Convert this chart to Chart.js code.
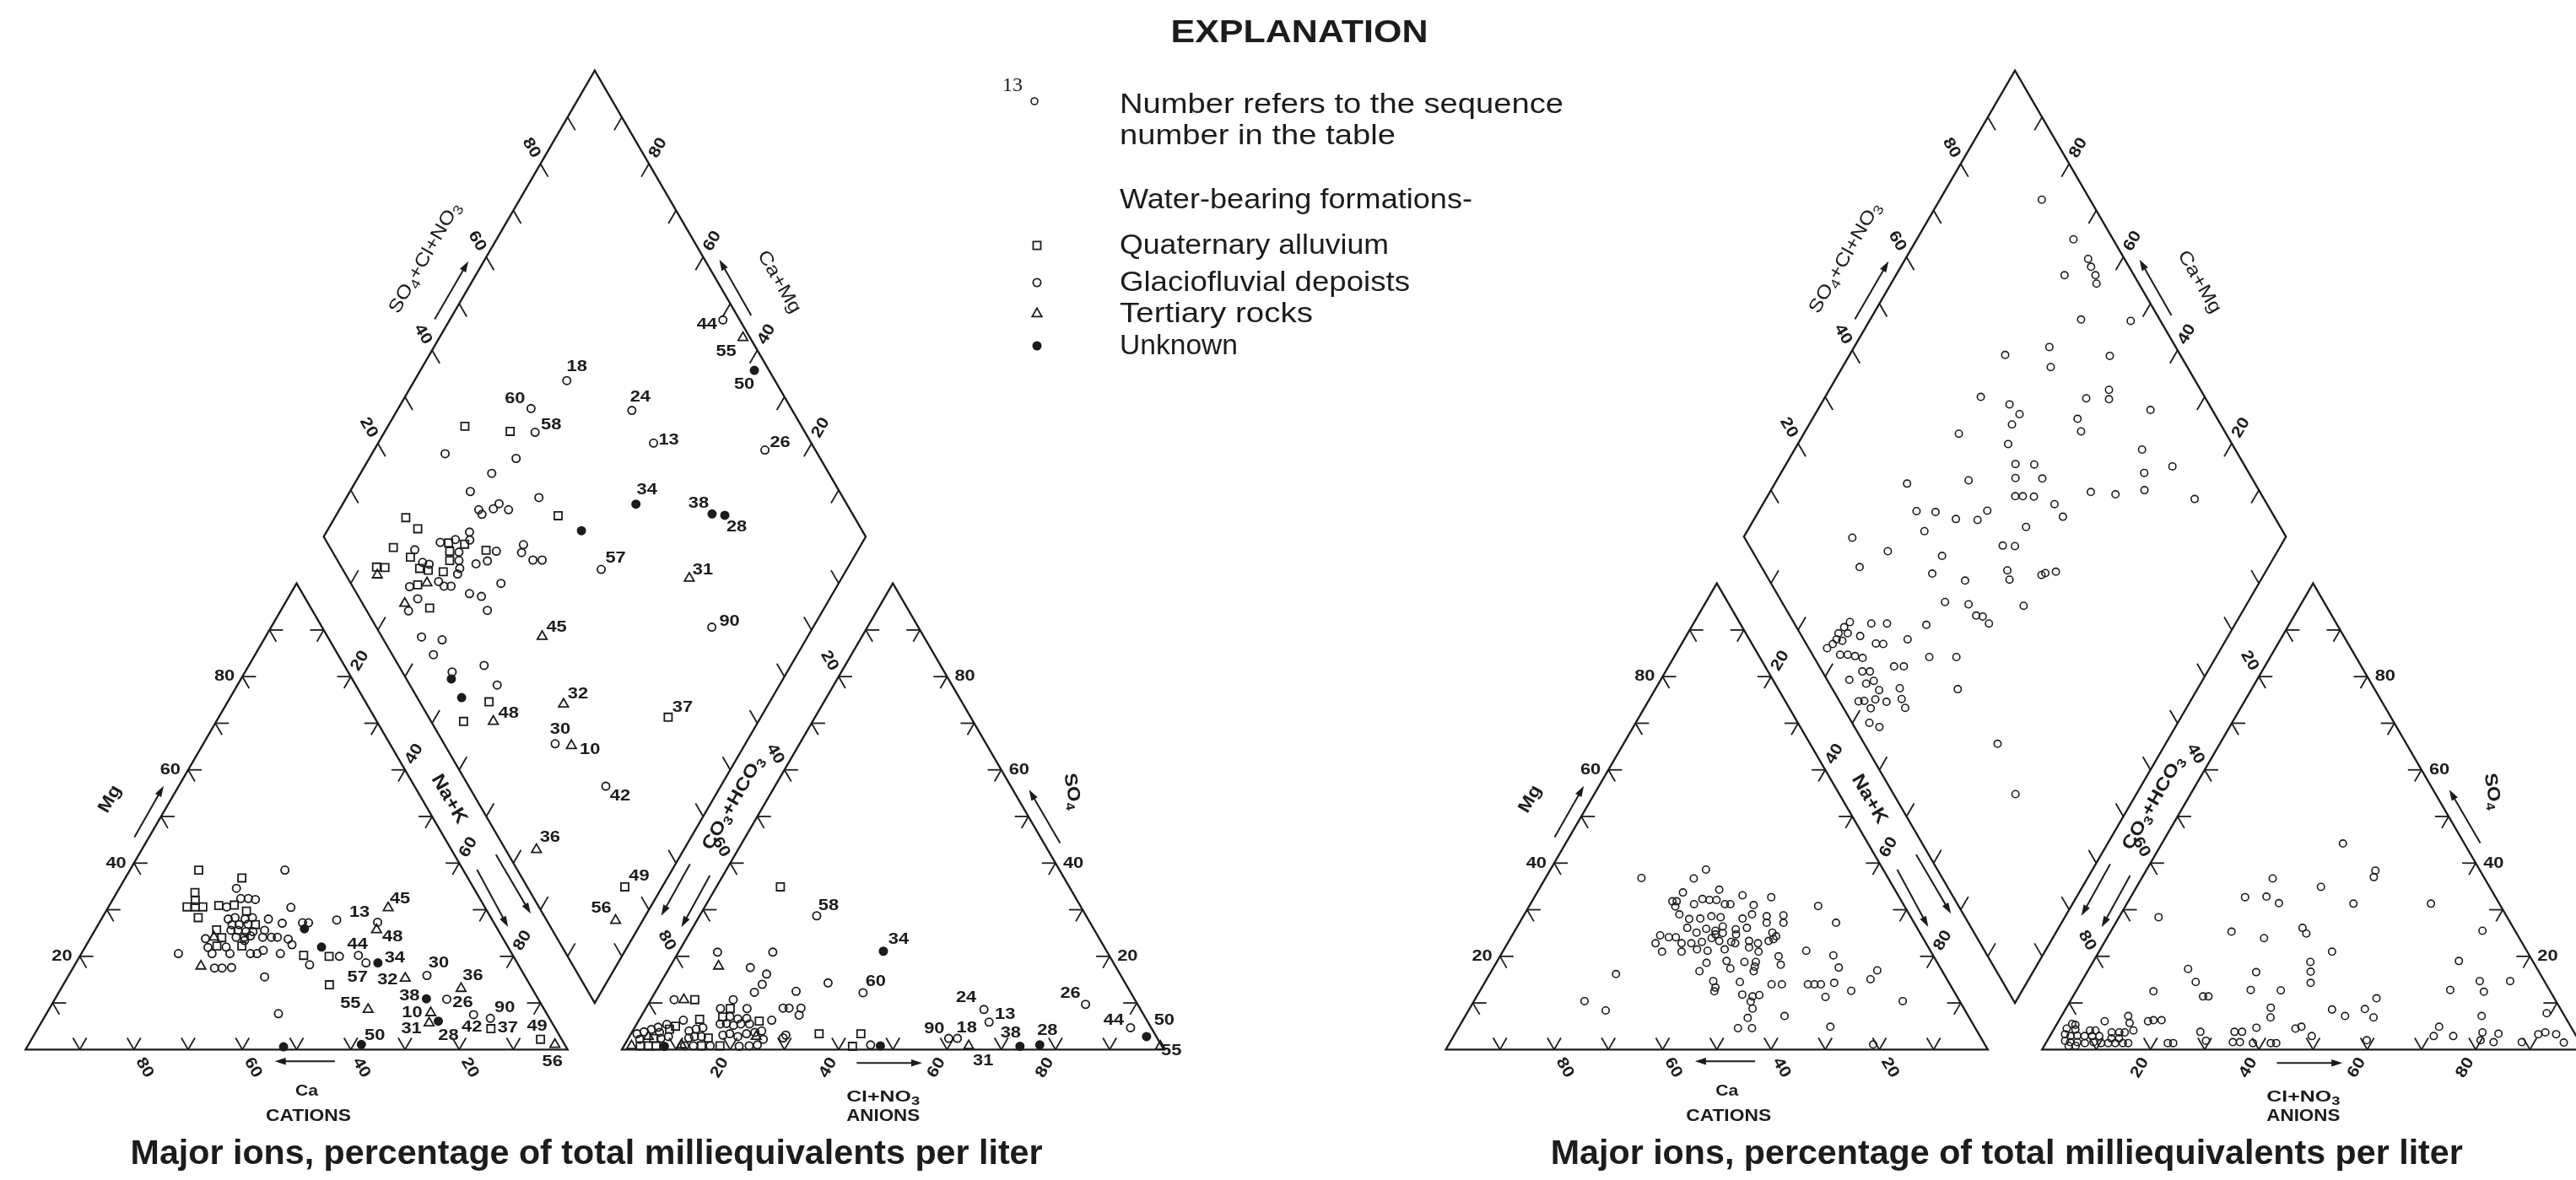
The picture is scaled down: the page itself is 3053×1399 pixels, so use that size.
<!DOCTYPE html>
<html>
<head>
<meta charset="utf-8">
<title>Major ions, percentage of total milliequivalents per liter</title>
<script src="https://cdn.jsdelivr.net/npm/chart.js@4.4.1/dist/chart.umd.min.js"></script>
<style>
  html, body { margin: 0; padding: 0; background: #ffffff; }
  canvas { display: block; }
</style>
</head>
<body>
<canvas id="piper" width="3053" height="1399"></canvas>
<script>
// ---------------------------------------------------------------------------
// Sample compositions, percent of total milliequivalents per liter.
// Cation points: [Ca, Mg, sequence no.]   (Na+K = 100 - Ca - Mg)
// Anion points:  [Cl+NO3, SO4, sequence no.]   (CO3+HCO3 = remainder)
// Diamond points: [SO4+Cl+NO3, Ca+Mg, sequence no.]
// ---------------------------------------------------------------------------

// Diagram 1 -- samples grouped by water-bearing formation
const catAlluvium = [[48.8,38.5],[41.7,36.8],[51.9,33.7],[52.7,32.0],[54.9,30.6],[53.4,30.6],[52.0,30.6],[54.0,28.3],[48.9,30.9],[46.0,31.0],[44.4,29.7],[44.2,26.8],[51.9,25.7],[51.8,24.0],[53.6,22.2],[49.0,22.2],[38.6,20.2],[34.0,20.0],[37.0,13.9],[11.9,4.5,37],[3.9,2.2,49]];
const catGlacial = [[32.9,38.5],[43.8,34.6],[47.6,30.6],[44.1,32.4],[42.7,32.4],[41.5,32.2],[35.8,30.5],[48.6,28.0],[47.2,28.3],[45.5,28.0],[44.0,28.3],[41.2,28.0],[48.5,26.8],[47.2,26.8],[45.5,26.9],[39.1,27.1],[49.3,25.6],[48.0,25.6],[46.7,25.3],[45.4,25.3],[43.1,25.6],[54.9,23.8],[49.1,24.1],[47.6,24.1],[46.3,24.4],[44.2,24.1],[42.6,24.1],[41.5,24.1],[39.7,23.7],[47.9,23.4],[55.4,21.9],[52.0,22.0],[39.6,22.5],[61.5,20.6],[55.3,20.6],[52.0,20.6],[48.2,20.6],[47.0,20.6],[45.5,21.3],[42.7,20.6],[56.4,17.5],[55.0,17.5],[53.2,17.6],[48.1,15.6],[49.5,7.7],[35.3,27.2],[34.2,27.2],[38.5,18.2],[32.1,20.0],[21.4,27.3],[28.7,27.8,13],[28.5,20.2,44],[27.9,18.6,57],[18.0,15.9,30],[16.9,10.8,26],[13.6,7.5,42],[10.9,6.7,90]];
const catTertiary = [[53.2,24.1],[58.7,17.9],[17.9,30.4,45],[22.4,25.7,48],[22.3,15.3,32],[13.1,13.1,36],[32.5,8.6,55],[21.3,7.9,10],[22.7,5.7,31],[1.8,1.1,56]];
const catUnknown = [[52.1,0.6],[35.6,25.9],[34.4,22.0],[25.7,18.6,34],[20.6,10.9,38],[20.8,6.1,28],[37.5,1.1,50]];

const anAlluvium = [[11.8,34.9],[8.1,10.7],[15.6,8.8],[11.1,6.5],[34.7,3.4],[42.4,3.4],[42.2,0.7],[7.4,5.0],[6.6,4.4],[4.7,2.4],[3.0,0.8],[4.5,0.8],[5.9,0.8],[15.1,7.0],[22.3,6.1],[14.7,2.5],[14.3,0.8],[17.7,0.8]];
const anGlacial = [[7.2,20.9],[17.4,20.9],[14.9,17.6],[18.6,16.2],[18.9,14.0],[18.3,12.3],[25.9,12.5],[30.9,14.3],[38.4,12.2,60],[21.6,28.7,58],[4.3,10.7],[15.2,10.7],[25.3,8.9],[26.4,8.9],[28.6,8.9],[29.0,7.4],[13.8,8.8],[18.7,8.8],[8.2,6.3],[24.5,6.3],[45.4,1.0],[59.1,2.4,90],[60.7,2.4,18],[62.5,8.6,24],[64.8,5.9,13],[28.5,2.5],[28.7,3.1],[80.7,9.7,26],[91.5,4.7,44],[1.1,3.4],[2.2,3.8],[3.3,4.3],[4.3,4.8],[5.6,5.4],[5.1,3.7],[2.2,2.2],[6.0,2.4],[7.2,2.8],[10.4,4.0],[11.5,4.4],[12.6,4.7],[16.4,7.1],[18.1,6.6],[19.7,6.7],[15.4,5.5],[16.5,5.6],[18.0,5.2],[19.2,5.5],[20.8,5.5],[11.1,2.5],[12.0,2.8],[13.3,2.8],[17.1,3.1],[18.2,3.4],[20.0,2.8],[21.3,3.4],[22.7,3.7],[23.8,4.0],[11.2,0.8],[12.8,0.8],[15.9,0.8],[21.3,0.7],[23.1,0.8],[24.5,1.0],[25.0,2.2]];
const anTertiary = [[8.9,17.9],[6.1,10.7],[3.5,2.8],[1.4,0.8],[10.5,1.0],[23.4,2.8],[63.6,0.8,31],[99.0,0.7,55]];
const anUnknown = [[37.7,21.1,34],[7.5,0.7],[47.3,0.8],[73.1,0.7,38],[76.6,1.0,28],[95.4,2.8,50]];

const diaAlluvium = [[37.9,85.8],[45.7,76.9],[45.5,59.0],[17.2,86.9],[18.2,83.5],[11.7,86.0],[13.8,81.8],[6.5,87.0],[8.0,85.4],[14.3,78.9],[15.7,77.1],[12.2,77.5],[22.4,76.3],[25.2,73.2],[21.7,75.2],[20.7,74.2],[18.3,74.2],[28.5,68.6],[11.9,72.8],[12.8,51.8],[6.0,54.4],[44.2,17.1,37],[18.0,6.9,49]];
const diaGlacial = [[96.9,49.6,44],[61.6,71.9,18],[70.4,56.7,24],[52.0,75.5,60],[50.2,72.2,58],[70.9,49.2,13],[90.7,27.9,26],[31.3,86.5],[43.9,72.9],[37.8,75.8],[31.9,77.8],[43.9,64.5],[31.5,74.3],[31.6,73.2],[34.3,71.7],[35.9,71.2],[37.0,68.8],[20.9,77.9],[24.0,75.4],[27.4,73.6],[26.6,72.7],[23.3,73.4],[22.4,72.5],[21.7,71.5],[20.7,71.3],[25.2,69.0],[27.6,67.2],[30.3,66.6],[36.0,62.3],[34.8,61.8],[36.1,58.9],[37.8,57.2],[27.7,62.3],[20.8,67.0],[22.7,64.5],[22.3,61.9],[7.7,76.4],[10.7,76.0],[15.4,81.8],[15.5,79.0],[16.5,77.6],[10.5,78.8],[16.4,74.0],[16.9,72.5],[18.2,71.2],[7.3,71.2],[10.8,67.1],[7.6,67.1],[9.2,61.8],[15.8,56.6],[16.1,52.1],[47.7,45.3,57],[20.5,35.1,30],[25.3,21.2,42],[61.9,18.7,90]];
const diaTertiary = [[5.8,86.0],[14.1,76.0],[7.8,77.9],[11.5,48.9,48],[29.6,49.0,45],[26.3,37.8,32],[23.3,31.9,10],[5.7,27.2,36],[12.7,5.0,56],[63.0,28.1,31],[98.7,44.0,55]];
const diaUnknown = [[97.3,38.4,50],[61.1,45.9,34],[74.1,30.8,38],[76.3,28.3,28],[48.2,53.1],[8.3,61.2],[8.2,57.3]];

// Diagram 2 -- all samples from glaciofluvial deposits
const cat2 = [[32.7,38.6],[45.5,36.8],[35.9,36.7],[39.4,33.7],[32.4,34.3],[28.7,33.1],[23.6,32.7],[15.9,30.8],[14.4,27.2],[27.7,31.0],[42.3,31.8],[41.5,31.8],[42.3,30.7],[42.4,29.0],[38.6,31.2],[36.5,32.3],[35.3,32.1],[34.0,32.1],[32.9,31.2],[31.9,31.2],[41.1,28.0],[39.0,28.1],[36.7,28.6],[35.1,28.4],[31.2,28.1],[29.0,29.0],[26.5,28.6],[23.3,28.8],[24.1,27.2],[27.2,27.2],[42.4,26.1],[41.2,25.1],[39.0,25.9],[37.5,25.5],[35.7,26.4],[37.9,24.7],[36.4,25.0],[33.6,25.8],[31.4,26.1],[34.1,24.7],[27.2,25.1],[26.9,24.3],[48.2,24.5],[49.9,22.8],[46.8,24.1],[45.5,24.1],[45.1,22.8],[43.3,22.8],[41.2,23.1],[39.0,23.9],[37.9,23.3],[35.8,23.1],[35.2,22.8],[32.4,23.3],[31.0,22.8],[33.1,21.9],[28.8,23.3],[27.7,23.7],[49.6,21.0],[46.0,21.0],[42.9,21.5],[41.1,21.2],[37.8,21.5],[31.8,21.0],[28.6,20.0],[22.9,21.2],[18.4,20.2],[29.1,18.2],[33.4,18.8],[35.5,18.8],[34.1,17.8],[38.7,19.0],[42.6,18.6],[38.8,17.4],[44.8,16.8],[34.8,16.8],[18.7,17.6],[60.5,16.2],[43.3,14.7],[43.6,13.3],[44.2,12.5],[38.5,14.5],[32.9,14.0],[31.0,14.0],[26.2,14.0],[25.0,14.0],[23.8,14.0],[21.2,14.3],[14.1,15.1],[11.9,17.0],[18.9,12.6],[69.2,10.4],[66.3,8.4],[39.4,11.8],[37.7,11.4],[36.3,11.7],[38.6,10.3],[39.0,8.8],[24.3,11.3],[10.5,10.4],[40.9,6.8],[33.9,7.2],[43.8,4.6],[41.2,4.6],[26.6,4.9],[20.6,1.1]];
const an2 = [[33.4,44.2],[42.3,38.4],[42.7,37.0],[24.2,36.7],[34.0,34.9],[21.1,32.7],[25.0,32.8],[28.0,31.4],[41.8,31.3],[56.1,31.3],[7.3,28.4],[35.0,26.1],[36.3,24.9],[22.3,25.3],[29.0,23.9],[43.0,21.0],[68.5,25.5],[67.4,19.0],[31.2,16.6],[40.1,18.8],[41.2,16.7],[42.4,14.3],[18.3,17.3],[21.1,14.5],[24.0,11.4],[25.0,11.4],[14.3,12.5],[32.1,12.8],[37.7,12.7],[68.9,12.8],[73.4,14.7],[75.3,12.4],[79.0,14.7],[37.7,9.0],[38.7,6.9],[56.2,11.0],[49.2,8.6],[52.3,7.2],[55.2,8.7],[57.7,6.9],[77.5,7.2],[89.2,7.8],[44.5,4.5],[45.4,4.9],[37.2,4.7],[27.3,3.8],[29.3,1.9],[48.3,2.9],[58.9,2.0],[70.8,4.9],[70.8,2.9],[74.4,2.9],[79.4,3.7],[79.9,2.0],[82.5,3.4],[82.5,1.6],[87.7,1.6],[89.9,3.3],[91.0,3.7],[93.2,3.3],[95.5,1.5],[22.5,1.4],[23.5,1.4],[33.6,3.8],[35.0,3.8],[34.4,1.6],[35.7,1.6],[38.2,1.4],[41.5,1.4],[42.5,1.4],[12.3,7.2],[13.3,5.7],[16.5,6.1],[17.4,6.3],[18.9,6.3],[8.5,6.1],[14.8,4.1],[2.8,5.5],[3.5,5.3],[2.3,4.5],[4.0,4.3],[6.8,4.1],[7.8,4.1],[11.0,3.7],[12.4,3.7],[13.4,3.7],[2.6,3.3],[3.8,2.9],[5.0,3.0],[6.4,2.9],[7.8,2.9],[9.1,2.9],[11.6,2.4],[13.0,2.4],[3.3,1.9],[4.4,1.6],[5.7,1.6],[7.2,1.4],[8.7,1.6],[10.2,1.4],[11.5,1.4],[12.8,1.4],[14.2,1.4],[15.2,1.4],[4.5,0.8],[5.8,0.8]];
const dia2 = [[91.1,81.2],[92.7,71.1],[93.3,66.3],[93.0,64.9],[92.9,63.2],[92.2,62.1],[87.2,68.9],[85.5,61.1],[94.5,51.8],[76.7,64.0],[74.8,61.6],[86.9,51.9],[67.7,71.3],[78.0,51.7],[83.1,48.4],[82.1,47.4],[88.6,38.6],[58.7,71.3],[63.2,65.2],[64.0,62.3],[61.5,62.6],[74.2,51.1],[73.5,49.1],[50.7,71.4],[58.7,61.2],[82.8,35.9],[86.6,28.5],[57.9,57.7],[61.3,54.2],[56.4,56.2],[61.3,51.2],[47.5,64.6],[35.8,75.6],[68.8,40.8],[73.1,36.0],[80.7,33.0],[78.9,31.1],[87.2,20.9],[54.4,54.3],[55.8,52.9],[57.8,50.8],[60.8,46.2],[61.0,43.3],[34.6,70.9],[38.0,67.3],[41.0,62.8],[44.9,58.7],[47.7,57.9],[53.1,49.0],[33.9,67.3],[19.9,79.9],[25.0,71.9],[34.5,61.4],[46.8,51.3],[49.0,49.0],[18.1,75.4],[30.8,61.3],[45.0,47.8],[44.4,46.4],[36.1,54.5],[50.8,41.0],[51.7,40.5],[53.8,38.7],[44.2,41.0],[30.1,55.9],[34.2,51.3],[34.4,48.7],[35.5,47.4],[35.9,45.5],[24.2,56.9],[21.3,52.9],[26.3,47.9],[23.1,44.2],[24.6,31.0],[22.5,22.3],[10.4,71.3],[8.8,71.8],[7.1,72.2],[6.1,71.9],[4.9,72.1],[3.4,72.7],[7.0,70.7],[8.8,70.5],[10.8,67.9],[14.2,67.2],[17.1,64.3],[12.9,64.2],[14.2,62.8],[19.2,58.8],[6.5,68.2],[7.7,66.7],[8.9,65.1],[5.1,69.6],[13.8,58.4],[15.6,56.6],[7.4,63.7],[8.8,62.3],[8.5,60.6],[4.1,65.2],[6.8,61.7],[8.5,58.6],[12.5,55.0],[3.5,61.2],[4.6,60.2],[6.8,58.3],[8.6,56.0],[11.7,53.5],[5.0,58.2],[11.4,51.9],[3.2,56.9],[4.6,54.6]];

// Axis tick values and text
const TICK_VALUES = [20, 40, 60, 80];
const FORMATION_NAMES = ['Quaternary alluvium', 'Glaciofluvial depoists', 'Tertiary rocks', 'Unknown'];
const TITLE = 'Major ions, percentage of total milliequivalents per liter';

// Where each sequence number sits relative to its symbol (screen pixels)
const catLabelPos = {13:[27,-9],45:[14,-11],48:[19,8],44:[-1,-13],34:[20,-6],57:[-10,17],30:[14,-15],32:[-21,2],36:[14,-15],38:[-20,-3],26:[19,4],55:[-21,-7],10:[-22,0],31:[-21,7],28:[12,17],42:[-2,15],90:[17,-13],37:[20,-1],49:[-4,-15],56:[-3,20],50:[16,-11]};
const anLabelPos = {58:[14,-12],34:[18,-14],60:[15,-13],24:[-21,-14],13:[19,-9],90:[-17,-11],18:[11,-12],31:[17,18],38:[-11,-16],28:[9,-17],26:[-18,-13],44:[-20,-9],50:[21,-19],55:[13,5]};
const diaLabelPos = {18:[12,-16],60:[-19,-12],58:[19,-9],24:[10,-16],13:[18,-4],26:[18,-9],44:[-19,5],55:[-20,16],50:[-12,17],34:[13,-17],38:[-16,-13],28:[14,14],57:[17,-13],31:[16,-10],90:[21,-7],45:[17,-11],32:[17,-12],48:[18,-9],37:[17,-12],30:[6,-17],10:[22,5],42:[17,12],36:[16,-14],49:[17,-13],56:[-17,-15]};

// ---------------------------------------------------------------------------
// Layout of the trilinear (Piper) diagram, in percent units (triangle side = 100)
// ---------------------------------------------------------------------------
const SQ = Math.sqrt(3) / 2;
const GAP = 10;            // space between cation and anion triangles
const SHIFT2 = 262;        // horizontal position of the second diagram
const PX_PER_UNIT = 6.46;
const ORIGIN_PX = [22, 1251];
const W = 3053, H = 1399;
const X_MIN = -ORIGIN_PX[0] / PX_PER_UNIT, X_MAX = (W - ORIGIN_PX[0]) / PX_PER_UNIT;
const Y_MIN = -(H - ORIGIN_PX[1]) / PX_PER_UNIT, Y_MAX = ORIGIN_PX[1] / PX_PER_UNIT;

const INK = '#1c1c1c';
const SANS = '"Liberation Sans", Arial, Helvetica, sans-serif';
const SERIF = '"Liberation Serif", "Times New Roman", serif';

const catXY = (ca, mg) => ({ x: 100 - ca - mg / 2, y: mg * SQ });
const anXY = (cl, so4) => ({ x: 100 + GAP + cl + so4 / 2, y: so4 * SQ });
const diaXY = (s, c) => ({ x: 100 + GAP / 2 + (s - c) / 2, y: GAP * SQ + (s + c) * SQ });

function toPoints(list, fn, dx) {
  return list.map(p => { const q = fn(p[0], p[1]); return { x: q.x + dx, y: q.y, seq: p[2] || null }; });
}

const MARK = {
  alluvium: { pointStyle: 'rect', radius: 6.4, fill: 'rgba(0,0,0,0)' },
  glacial: { pointStyle: 'circle', radius: 4.6, fill: 'rgba(0,0,0,0)' },
  tertiary: { pointStyle: 'triangle', radius: 6.6, fill: 'rgba(0,0,0,0)' },
  unknown: { pointStyle: 'circle', radius: 4.6, fill: INK }
};

function ds(label, list, fn, dx, kind, labelPos, small) {
  const m = MARK[kind];
  return {
    label, data: toPoints(list, fn, dx), showLine: false,
    pointStyle: m.pointStyle, pointRadius: small ? 4.2 : m.radius,
    pointBackgroundColor: m.fill, pointBorderColor: INK,
    pointBorderWidth: small ? 1.6 : 1.8, labelPos: labelPos || null
  };
}

const datasets = [
  ds('Cations, alluvium', catAlluvium, catXY, 0, 'alluvium', catLabelPos),
  ds('Cations, glaciofluvial', catGlacial, catXY, 0, 'glacial', catLabelPos),
  ds('Cations, tertiary', catTertiary, catXY, 0, 'tertiary', catLabelPos),
  ds('Cations, unknown', catUnknown, catXY, 0, 'unknown', catLabelPos),
  ds('Anions, alluvium', anAlluvium, anXY, 0, 'alluvium', anLabelPos),
  ds('Anions, glaciofluvial', anGlacial, anXY, 0, 'glacial', anLabelPos),
  ds('Anions, tertiary', anTertiary, anXY, 0, 'tertiary', anLabelPos),
  ds('Anions, unknown', anUnknown, anXY, 0, 'unknown', anLabelPos),
  ds('Combined, alluvium', diaAlluvium, diaXY, 0, 'alluvium', diaLabelPos),
  ds('Combined, glaciofluvial', diaGlacial, diaXY, 0, 'glacial', diaLabelPos),
  ds('Combined, tertiary', diaTertiary, diaXY, 0, 'tertiary', diaLabelPos),
  ds('Combined, unknown', diaUnknown, diaXY, 0, 'unknown', diaLabelPos),
  ds('Cations 2', cat2, catXY, SHIFT2, 'glacial', null, true),
  ds('Anions 2', an2, anXY, SHIFT2, 'glacial', null, true),
  ds('Combined 2', dia2, diaXY, SHIFT2, 'glacial', null, true)
];

// ---------------------------------------------------------------------------
// Text helper: '_' marks the next character as a subscript
// ---------------------------------------------------------------------------
function richText(ctx, text, x, y, o) {
  const size = o.size || 19, weight = o.weight || 'bold', fam = o.family || SANS;
  const segs = [];
  for (let i = 0; i < text.length; i++) {
    const sub = text[i] === '_';
    const ch = sub ? text[++i] : text[i];
    const last = segs[segs.length - 1];
    if (last && last.sub === sub) last.t += ch; else segs.push({ t: ch, sub });
  }
  const fN = weight + ' ' + size + 'px ' + fam;
  const fS = weight + ' ' + Math.round(size * 0.72) + 'px ' + fam;
  let w = 0;
  segs.forEach(s => { ctx.font = s.sub ? fS : fN; s.w = ctx.measureText(s.t).width; w += s.w; });
  const sx = o.width ? o.width / w : (o.stretch || 1.12);
  ctx.save();
  ctx.translate(x, y);
  if (o.rot) ctx.rotate(o.rot * Math.PI / 180);
  ctx.scale(sx, 1);
  let cx = o.align === 'left' ? 0 : (o.align === 'right' ? -w : -w / 2);
  ctx.fillStyle = INK;
  ctx.textAlign = 'left';
  ctx.textBaseline = o.baseline || 'middle';
  segs.forEach(s => {
    ctx.font = s.sub ? fS : fN;
    ctx.fillText(s.t, cx, s.sub ? size * 0.3 : 0);
    cx += s.w;
  });
  ctx.restore();
}

function arrow(ctx, a, b) {
  const dx = b[0] - a[0], dy = b[1] - a[1], L = Math.hypot(dx, dy);
  const ux = dx / L, uy = dy / L, hl = 13, hw = 4.2;
  ctx.beginPath();
  ctx.moveTo(a[0], a[1]);
  ctx.lineTo(b[0] - ux * hl * 0.6, b[1] - uy * hl * 0.6);
  ctx.stroke();
  ctx.beginPath();
  ctx.moveTo(b[0], b[1]);
  ctx.lineTo(b[0] - ux * hl - uy * hw, b[1] - uy * hl + ux * hw);
  ctx.lineTo(b[0] - ux * hl + uy * hw, b[1] - uy * hl - ux * hw);
  ctx.closePath();
  ctx.fill();
}

// Frame, ticks, scale numbers and axis names of one diagram
function drawDiagram(ctx, P, ox) {
  const T = 100 * SQ;
  const dB = [100 + GAP / 2, GAP * SQ], dL = [50 + GAP / 2, GAP * SQ + T];
  const dT = [100 + GAP / 2, GAP * SQ + 2 * T], dR = [150 + GAP / 2, GAP * SQ + T];
  const at = (u, v) => P(ox + u, v);

  ctx.save();
  ctx.strokeStyle = INK;
  ctx.fillStyle = INK;
  ctx.lineWidth = 2.3;
  ctx.lineJoin = 'miter';
  const poly = pts => {
    ctx.beginPath();
    pts.forEach((p, i) => { const q = at(p[0], p[1]); if (i) ctx.lineTo(q[0], q[1]); else ctx.moveTo(q[0], q[1]); });
    ctx.closePath();
    ctx.stroke();
  };
  poly([[0, 0], [100, 0], [50, T]]);
  poly([[100 + GAP, 0], [200 + GAP, 0], [150 + GAP, T]]);
  poly([dB, dL, dT, dR]);

  // ticks every 10 percent
  ctx.lineWidth = 1.8;
  const seg = (p, d, len) => {
    const a = at(p[0], p[1]), b = at(p[0] + d[0] * len, p[1] + d[1] * len);
    ctx.beginPath(); ctx.moveTo(a[0], a[1]); ctx.lineTo(b[0], b[1]); ctx.stroke();
  };
  const UR = [0.5, SQ], UL = [-0.5, SQ], DR = [0.5, -SQ], DL = [-0.5, -SQ], RT = [1, 0], LT = [-1, 0];
  const TL = 2.5, TD = 2.8;
  for (let k = 1; k <= 9; k++) {
    const f = k * 10, t = f / 100;
    seg([f / 2, f * SQ], RT, TL); seg([f / 2, f * SQ], DR, TL);
    seg([100 - f / 2, f * SQ], LT, TL); seg([100 - f / 2, f * SQ], DL, TL);
    seg([f, 0], UL, TL); seg([f, 0], UR, TL);
    seg([100 + GAP + f / 2, f * SQ], RT, TL); seg([100 + GAP + f / 2, f * SQ], DR, TL);
    seg([200 + GAP - f / 2, f * SQ], LT, TL); seg([200 + GAP - f / 2, f * SQ], DL, TL);
    seg([100 + GAP + f, 0], UL, TL); seg([100 + GAP + f, 0], UR, TL);
    const lerp = (a, b) => [a[0] + (b[0] - a[0]) * t, a[1] + (b[1] - a[1]) * t];
    seg(lerp(dL, dT), DR, TD);
    seg(lerp(dT, dR), DL, TD);
    seg(lerp(dB, dL), UR, TD);
    seg(lerp(dB, dR), UL, TD);
  }

  // scale numbers
  const num = { size: 19, weight: 'bold', stretch: 1.15 };
  const put = (s, p, o) => { const q = at(p[0], p[1]); richText(ctx, s, q[0], q[1], Object.assign({}, num, o)); };
  const D1 = 3.9, D2 = 3.4, DH = 1.4;
  TICK_VALUES.forEach(f => {
    const s = String(f), t = f / 100;
    put(s, [f / 2 - DH, f * SQ], { align: 'right' });                                   // Mg
    put(s, [100 - f + 0.5 * D1, -SQ * D1], { rot: 60 });                                // Ca
    put(s, [50 + f / 2 + 0.5 * D2, T - f * SQ + SQ * D2], { rot: -60 });               // Na+K
    put(s, [100 + GAP + f - 0.5 * D1, -SQ * D1], { rot: -60 });                        // Cl+NO3
    put(s, [200 + GAP - f / 2 + DH, f * SQ], { align: 'left' });                        // SO4
    put(s, [100 + GAP + 50 * (1 - t) - 0.5 * D2, T * (1 - t) + SQ * D2], { rot: 60 }); // CO3+HCO3
    put(s, [dL[0] + (dT[0] - dL[0]) * t - 0.5 * D2, dL[1] + (dT[1] - dL[1]) * t + SQ * D2], { rot: 60 });  // SO4+Cl+NO3
    put(s, [dT[0] + (dR[0] - dT[0]) * (1 - t) + 0.5 * D2, dT[1] + (dR[1] - dT[1]) * (1 - t) + SQ * D2], { rot: -60 }); // Ca+Mg
  });

  // axis names and direction arrows
  ctx.lineWidth = 2;
  const ar = (a, b) => arrow(ctx, at(a[0], a[1]), at(b[0], b[1]));
  const name = (s, p, o) => { const q = at(p[0], p[1]); richText(ctx, s, q[0], q[1], Object.assign({ size: 21, weight: 'bold', stretch: 1.12 }, o)); };
  name('Mg', [15.60, 46.52], { rot: -60 });
  ar([20.09, 39.47], [25.48, 48.99]);
  name('Na+K', [78.14, 46.52], { rot: 60, size: 22 });
  ar([83.28, 33.44], [89.01, 22.76]);
  ar([86.78, 36.22], [93.19, 25.23]);
  name('SO_4', [193.07, 47.94], { rot: 80 });
  ar([190.85, 38.36], [185.12, 48.28]);
  name('CO_3+HCO_3', [130.53, 45.80], { rot: -60, width: 125 });
  ar([122.57, 34.44], [117.26, 24.86]);
  ar([126.24, 32.32], [120.99, 22.74]);
  name('SO_4+Cl+NO_3', [73.68, 147.06], { rot: -60, weight: 'normal', size: 22, width: 148 });
  ar([75.48, 135.67], [81.69, 146.44]);
  name('Ca+Mg', [139.01, 142.57], { rot: 60, weight: 'normal', size: 22, width: 82 });
  ar([133.87, 136.38], [127.99, 146.75]);
  name('Ca', [51.86, -7.74], { size: 19, width: 27 });
  name('CATIONS', [52.17, -12.38], { size: 20, width: 101 });
  name('Cl+NO_3', [158.2, -8.82], { size: 19, width: 87 });
  name('ANIONS', [158.2, -12.38], { size: 20, width: 87 });
  ar([57.06, -2.17], [45.98, -2.17]);
  ar([153.33, -2.48], [165.42, -2.48]);

  const tp = at(103.48, -21.21);
  richText(ctx, TITLE, tp[0], tp[1], { size: 40, weight: 'bold', width: 1081, baseline: 'alphabetic' });
  ctx.restore();
}

function symbol(ctx, kind, x, y) {
  const m = MARK[kind];
  ctx.save();
  ctx.strokeStyle = INK;
  ctx.lineWidth = 1.8;
  ctx.fillStyle = m.fill;
  ctx.beginPath();
  if (m.pointStyle === 'rect') {
    const h = m.radius * Math.SQRT1_2;
    ctx.rect(x - h, y - h, 2 * h, 2 * h);
  } else if (m.pointStyle === 'triangle') {
    for (let i = 0; i < 3; i++) {
      const a = i * 2 * Math.PI / 3;
      const px = x + Math.sin(a) * m.radius, py = y - Math.cos(a) * m.radius;
      if (i) ctx.lineTo(px, py); else ctx.moveTo(px, py);
    }
    ctx.closePath();
  } else {
    ctx.arc(x, y, m.radius, 0, Math.PI * 2);
  }
  ctx.fill();
  ctx.stroke();
  ctx.restore();
}

function drawExplanation(ctx) {
  richText(ctx, 'EXPLANATION', 1540, 40, { size: 37, weight: 'bold', width: 305 });
  ctx.save();
  ctx.fillStyle = INK;
  ctx.font = '24px ' + SERIF;
  ctx.textAlign = 'center';
  ctx.textBaseline = 'middle';
  ctx.fillText('13', 1200, 102);
  ctx.restore();
  ctx.save();
  ctx.strokeStyle = INK; ctx.lineWidth = 1.6;
  ctx.beginPath(); ctx.arc(1226, 120, 4, 0, Math.PI * 2); ctx.stroke();
  ctx.restore();
  const line = (s, y, w) => richText(ctx, s, 1327, y, { size: 34, weight: 'normal', width: w, align: 'left' });
  line('Number refers to the sequence', 125, 526);
  line('number in the table', 162, 327);
  line('Water-bearing formations-', 238, 418);
  const kinds = ['alluvium', 'glacial', 'tertiary', 'unknown'];
  const rows = [292, 336, 373, 411], widths = [319, 344, 229, 140];
  kinds.forEach((k, i) => {
    symbol(ctx, k, 1229, rows[i] - 1);
    line(FORMATION_NAMES[i], rows[i], widths[i]);
  });
}

const piperPlugin = {
  id: 'piperFrame',
  beforeDatasetsDraw(chart) {
    const ctx = chart.ctx, xs = chart.scales.x, ys = chart.scales.y;
    const P = (u, v) => [xs.getPixelForValue(u), ys.getPixelForValue(v)];
    ctx.save();
    ctx.fillStyle = '#ffffff';
    ctx.fillRect(0, 0, chart.width, chart.height);
    ctx.restore();
    drawDiagram(ctx, P, 0);
    drawDiagram(ctx, P, SHIFT2);
    drawExplanation(ctx);
  },
  afterDatasetsDraw(chart) {
    const ctx = chart.ctx;
    chart.data.datasets.forEach((d, di) => {
      if (!d.labelPos) return;
      const meta = chart.getDatasetMeta(di);
      meta.data.forEach((el, i) => {
        const seq = d.data[i].seq;
        if (!seq) return;
        const o = d.labelPos[seq] || [15, -12];
        richText(ctx, String(seq), el.x + o[0], el.y + o[1], { size: 19, weight: 'bold', stretch: 1.15 });
      });
    });
  }
};

new Chart(document.getElementById('piper'), {
  type: 'scatter',
  data: { datasets },
  options: {
    responsive: false,
    animation: false,
    devicePixelRatio: 1,
    events: [],
    layout: { padding: 0 },
    plugins: { legend: { display: false }, tooltip: { enabled: false } },
    scales: {
      x: { type: 'linear', min: X_MIN, max: X_MAX, display: false },
      y: { type: 'linear', min: Y_MIN, max: Y_MAX, display: false }
    }
  },
  plugins: [piperPlugin]
});
</script>
</body>
</html>
